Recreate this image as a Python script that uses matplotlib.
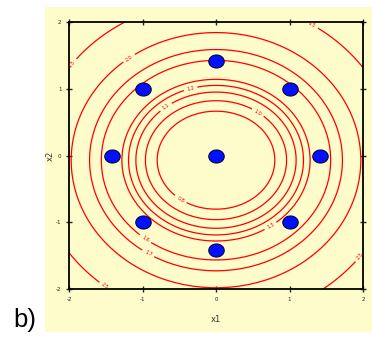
import numpy as np
import matplotlib.pyplot as plt
from matplotlib.patches import Rectangle
from matplotlib.path import Path

# design points (coded units), central composite design
x1_pts = [0, 0, -1, 1, -1.41, 1.41, -1, 1, 0]
x2_pts = [0, 1.41, 1, 1, 0, 0, -1, -1, -1.41]

# contour levels (radius-like values)
levels = [0.80, 0.96, 1.09, 1.19, 1.28, 1.56, 1.72, 1.97, 2.45]

tick_vals = [-2, -1, 0, 1, 2]
tick_labels = ['-2', '-1', '0', '1', '2']

W, H = 372, 337
cream = '#fffccc'

fig = plt.figure(figsize=(W / 100, H / 100), dpi=100)
fig.patches.append(Rectangle((45 / W, 1 - 332 / H), 327 / W, 325 / H,
                             transform=fig.transFigure, facecolor=cream,
                             edgecolor='none', zorder=-10))
ax = fig.add_axes([69 / W, 1 - 289 / H, 294 / W, 267 / H])
ax.set_facecolor(cream)

g = np.linspace(-2, 2, 400)
X, Y = np.meshgrid(g, g)
Yc = Y + 0.07
F = np.sqrt(X**2 + Yc**2 + 0.29 * Yc**2 / (1 + X**2 + Yc**2))
cs = ax.contour(X, Y, F, levels=levels, colors='#ff0000', linewidths=0.9)
ax.clabel(cs, fontsize=3.5, fmt='%.1f', inline=True, inline_spacing=3)

# slightly wide dots
t = np.linspace(0, 2 * np.pi, 40)
dot = Path(np.column_stack([1.18 * np.cos(t), np.sin(t)]))
ax.scatter(x1_pts, x2_pts, marker=dot, s=125, c='#0010ff',
           edgecolors='#00002a', linewidths=0.7, zorder=3)

ax.set_xlim(-2, 2)
ax.set_ylim(-2, 2)
ax.set_xticks(tick_vals)
ax.set_xticklabels(tick_labels)
ax.set_yticks(tick_vals)
ax.set_yticklabels(tick_labels)
ax.tick_params(direction='inout', length=5, width=1, labelsize=4,
               colors='#222222', top=True, right=True, pad=3)
for s in ax.spines.values():
    s.set_linewidth(1.3)

ax.text(0.5, -0.116, 'x1', transform=ax.transAxes, ha='center', va='center',
        fontsize=6, color='#333333')
ax.text(-0.065, 0.5, 'x2', transform=ax.transAxes, ha='center', va='center',
        fontsize=6, rotation=90, color='#333333')

fig.text(13 / W, 1 - 327 / H, 'b)', fontsize=18.5, family='Liberation Sans',
         va='baseline', ha='left')

fig.savefig('out.png', dpi=100)
